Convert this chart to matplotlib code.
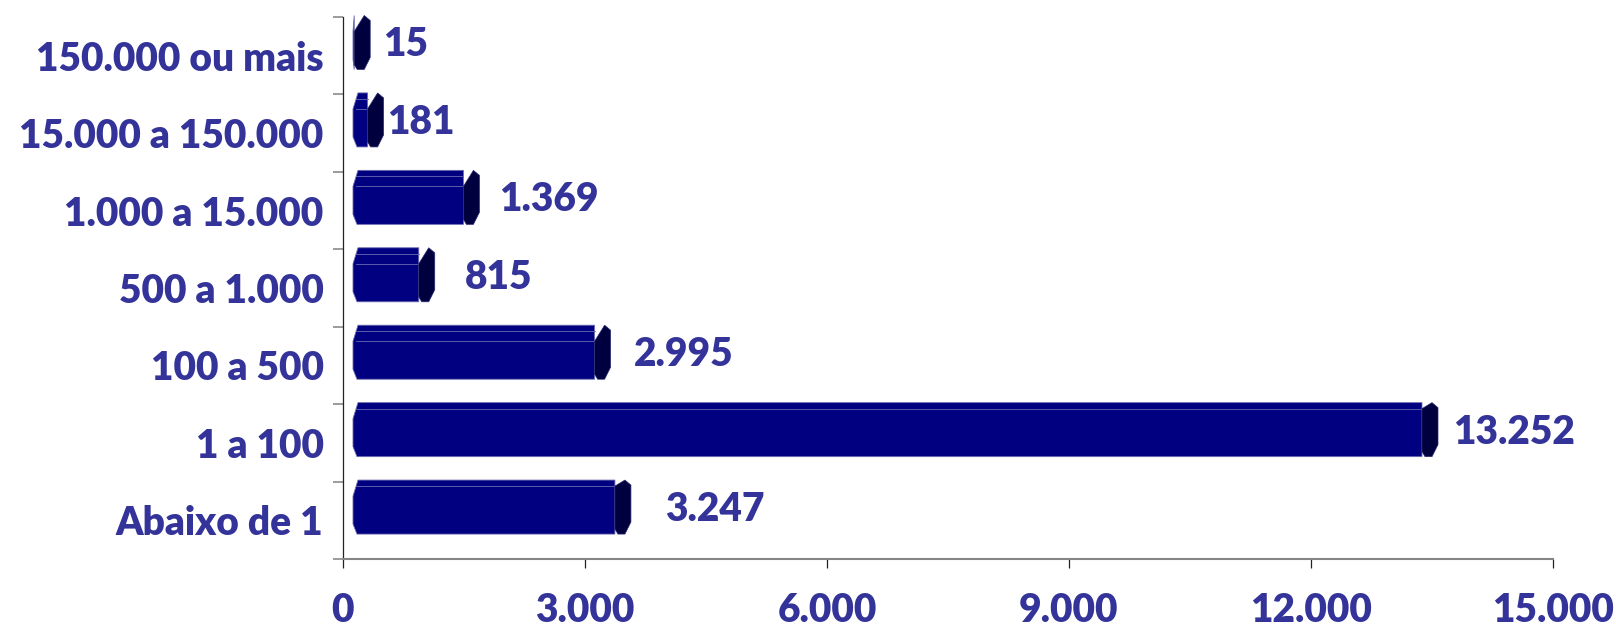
import numpy as np
import matplotlib
matplotlib.use("Agg")
import matplotlib.pyplot as plt
from matplotlib.patches import Polygon
from matplotlib.ticker import FixedLocator, FuncFormatter

plt.rcParams["font.family"] = ["Lato", "DejaVu Sans"]

categories = ["Abaixo de 1", "1 a 100", "100 a 500", "500 a 1.000",
              "1.000 a 15.000", "15.000 a 150.000", "150.000 ou mais"]
values = [3247, 13252, 2995, 815, 1369, 181, 15]
xticks = [0, 3000, 6000, 9000, 12000, 15000]

# style only: how far each value label sits from its bar end (px),
# and how deep the upper bevel looks on each bar (px)
label_gap_px = [34, 15, 23, 30, 20, 3, 13]
bevel_px = [6, 6, 16, 16, 16, 16, 16]

text_color = "#333399"
face_color = "#000080"
cap_color = "#00003f"
edge_color = "#6a6ab0"
fs = 28
fw = "heavy"


def fmt(v, pos=None):
    return f"{int(v):,}".replace(",", ".")


fig = plt.figure(figsize=(16.16, 6.26), dpi=100)
W, H = 1616, 626
ax = fig.add_axes([343 / W, (H - 559) / H, (1553 - 343) / W, (559 - 17) / H])
ax.set_xlim(0, 15000)
ax.set_ylim(-0.5, len(categories) - 0.5)

for s in ["top", "right"]:
    ax.spines[s].set_visible(False)
ax.spines["bottom"].set_color("#868686")
ax.spines["bottom"].set_linewidth(1.5)
ax.spines["left"].set_color("#222222")
ax.spines["left"].set_linewidth(0.9)

ax.xaxis.set_major_locator(FixedLocator(xticks))
ax.xaxis.set_major_formatter(FuncFormatter(fmt))
ax.tick_params(axis="x", which="major", direction="out", length=6.5,
               width=0.9, color="#222222", pad=17,
               labelsize=fs, labelcolor=text_color)
ax.set_yticks(range(len(categories)))
ax.set_yticklabels(categories)
ax.yaxis.set_minor_locator(FixedLocator(np.arange(len(categories) + 1) - 0.5))
ax.tick_params(axis="y", which="major", length=0, pad=14,
               labelsize=fs, labelcolor=text_color)
ax.tick_params(axis="y", which="minor", direction="out", length=7.2,
               width=1.1, color="#808080")
for lab in ax.get_xticklabels() + ax.get_yticklabels():
    lab.set_fontweight(fw)

# bars are drawn in pixel space from the data transform,
# shifted right/up a bit like the old 3d office chart
dx = 10
bar_h = 54
cap_w = 16
cap_h_px = 0.7165 * fs * 100 / 72
to_px = ax.transData.transform

for i, v in enumerate(values):
    x0, y_top = to_px((0, i + 0.5))
    xr = to_px((v, i))[0]
    L = x0 + dx
    R = xr + dx
    T = y_top + 1.5
    B = T - bar_h
    d = bevel_px[i]
    body = [(min(L + 5, R), T), (R, T), (R, B), (min(L + 4, R), B),
            (L, B + 10), (L, T - 16)]
    ax.add_patch(Polygon(body, closed=True, transform=None,
                         facecolor=face_color, edgecolor=edge_color,
                         linewidth=0.6, zorder=3, clip_on=False))
    if R > L + 4:
        for yl in ([T - 6, T - 16] if d > 6 else [T - 6]):
            ax.plot([L + 3, R], [yl, yl], transform=None, color=edge_color,
                    linewidth=0.6, zorder=4, clip_on=False)
    cap = [(R, T - d), (R + 10, T), (R + cap_w, T - 5), (R + cap_w, T - 42),
           (R + 10, B), (R + 3, B), (R, B + 5)]
    ax.add_patch(Polygon(cap, closed=True, transform=None,
                         facecolor=cap_color, edgecolor="#2a2a70",
                         linewidth=0.5, zorder=5, clip_on=False))
    ax.text(R + cap_w + label_gap_px[i], (T + B) / 2 - cap_h_px / 2, fmt(v),
            transform=None, ha="left", va="baseline", fontsize=fs,
            fontweight=fw, color=text_color, zorder=6)

fig.savefig("out.png", dpi=100)
